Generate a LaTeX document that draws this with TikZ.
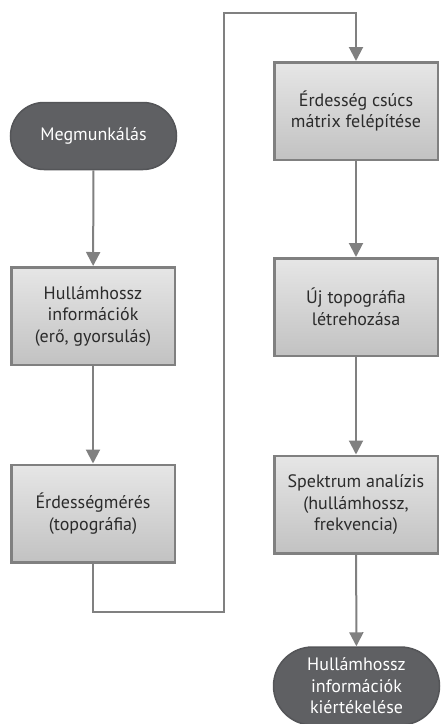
\documentclass[tikz,border=0pt]{standalone}
\usepackage{fontspec}
\setmainfont{PT Sans}
\usetikzlibrary{arrows.meta,shapes.misc}
\definecolor{linegray}{HTML}{808080}
\definecolor{termfill}{HTML}{5F6063}
\definecolor{termdraw}{HTML}{545558}
\definecolor{boxtop}{HTML}{E6E6E6}
\definecolor{boxbot}{HTML}{C2C2C2}
\definecolor{txt}{HTML}{2B2B2B}
\tikzset{
  every picture/.style={x=1pt,y=-1pt},
  procbox/.style={draw=linegray, line width=2.5pt, top color=boxtop, bottom color=boxbot,
    minimum width=163.5pt, minimum height=97.5pt, inner sep=0pt, align=center,
    font=\fontsize{18}{21.5}\selectfont, text=txt},
  term/.style={rounded rectangle, draw=termdraw, line width=1.5pt, fill=termfill,
    inner sep=0pt, align=center, text=white, font=\fontsize{18}{21.5}\selectfont},
  flow/.style={draw=linegray, line width=2pt, -{Triangle[width=14pt,length=14pt]}},
}
\begin{document}
\begin{tikzpicture}
\useasboundingbox (0,0) rectangle (440,724);
\node[term, minimum width=166pt, minimum height=67pt] (start) at (93.5,136) {Megmunkálás};
\node[procbox] (b1) at (93,316) {Hullámhossz\\információk\\(erő, gyorsulás)};
\node[procbox] (b2) at (93,513.5) {Érdességmérés\\(topográfia)};
\node[procbox] (b3) at (356,111) {Érdesség csúcs\\mátrix felépítése};
\node[procbox] (b4) at (356,307) {Új topográfia\\létrehozása};
\node[procbox] (b5) at (356,504.5) {Spektrum analízis\\(hullámhossz,\\frekvencia)};
\node[term, minimum width=166pt, minimum height=78pt] (end) at (356.5,686) {Hullámhossz\\információk\\kiértékelése};
\draw[flow] (start) -- (b1);
\draw[flow] (b1) -- (b2);
\draw[flow] (b2.south) -- (93,612) -- (224,612) -- (224,13) -- (356,13) -- (b3.north);
\draw[flow] (b3) -- (b4);
\draw[flow] (b4) -- (b5);
\draw[flow] (b5) -- (end);
\end{tikzpicture}
\end{document}
